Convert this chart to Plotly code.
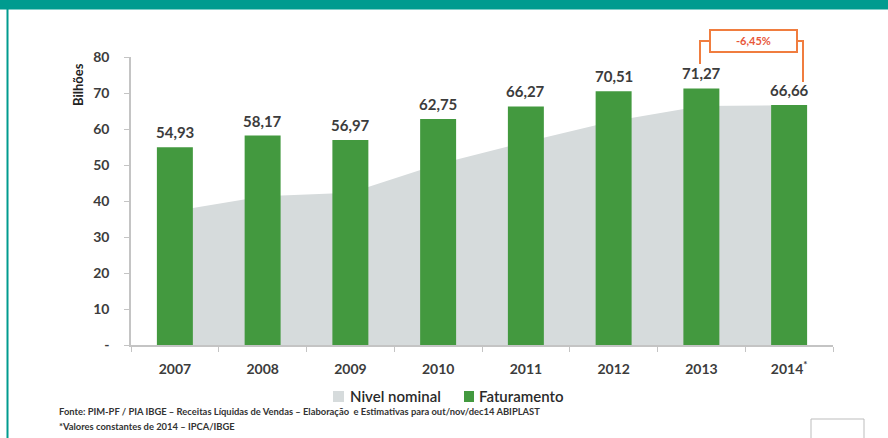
import plotly.graph_objects as go

years = ["2007", "2008", "2009", "2010", "2011", "2012", "2013", "2014"]
year_labels = ["2007", "2008", "2009", "2010", "2011", "2012", "2013", "2014<sup>*</sup>"]
faturamento = [54.93, 58.17, 56.97, 62.75, 66.27, 70.51, 71.27, 66.66]
nivel_nominal = [37.2, 41.3, 42.3, 50.2, 56.4, 62.2, 66.4, 66.6]
y_ticks = [0, 10, 20, 30, 40, 50, 60, 70, 80]
y_ticktext = ["-", "10", "20", "30", "40", "50", "60", "70", "80"]
variation_text = "-6,45%"

x_idx = list(range(len(years)))

W, H = 888, 438
L, R, T, B = 131, 55, 57, 93
PW, PH = W - L - R, H - T - B

def px(x):
    return (x - L) / PW

def py(y):
    return (H - B - y) / PH

GREEN = "#43993f"
GREY = "#d6dbdc"
TEAL = "#009b8f"
ORANGE = "#f07d3f"
TXT = "#3c3c3c"
FONT = "Lato"

fig = go.Figure()
fig.add_trace(go.Scatter(
    x=x_idx, y=nivel_nominal, mode="lines", fill="tozeroy",
    fillcolor=GREY, line=dict(width=0, color=GREY), name="Nivel nominal",
    showlegend=False, hoverinfo="skip", xaxis="x", yaxis="y"))
fig.add_trace(go.Bar(
    x=x_idx, y=faturamento, marker=dict(color=GREEN, line=dict(width=0)),
    name="Faturamento", showlegend=False, xaxis="x", yaxis="y2"))

annotations = []
for xi, v in zip(x_idx, faturamento):
    annotations.append(dict(
        x=xi, y=v, xref="x", yref="y", text=f"{v:.2f}".replace(".", ","),
        showarrow=False, yanchor="middle", yshift=15,
        font=dict(family=FONT, size=15, color=TXT, weight="bold")))

annotations.append(dict(x=px(78), y=py(85), xref="paper", yref="paper", text="Bilhões",
                        textangle=-90, showarrow=False, xanchor="center", yanchor="middle",
                        font=dict(family=FONT, size=13, color="#222222", weight="bold")))

annotations.append(dict(x=px(753), y=py(41), xref="paper", yref="paper", text=variation_text,
                        showarrow=False, xanchor="center", yanchor="middle",
                        font=dict(family=FONT, size=11, color="#e8573a", weight="bold")))

annotations.append(dict(x=px(348), y=py(396), xref="paper", yref="paper", text="Nivel nominal",
                        showarrow=False, xanchor="left", yanchor="middle",
                        font=dict(family=FONT, size=15, color="#2a2a2a", weight=600)))
annotations.append(dict(x=px(477), y=py(396), xref="paper", yref="paper", text="Faturamento",
                        showarrow=False, xanchor="left", yanchor="middle",
                        font=dict(family=FONT, size=15, color="#2a2a2a", weight=600)))

annotations.append(dict(x=px(57), y=py(411), xref="paper", yref="paper",
                        text="Fonte: PIM-PF / PIA IBGE – Receitas Líquidas de Vendas – Elaboração  e Estimativas para out/nov/dec14 ABIPLAST",
                        showarrow=False, xanchor="left", yanchor="middle",
                        font=dict(family=FONT, size=9.4, color="#333333", weight="bold")))
annotations.append(dict(x=px(57), y=py(426), xref="paper", yref="paper",
                        text="*Valores constantes de 2014 – IPCA/IBGE",
                        showarrow=False, xanchor="left", yanchor="middle",
                        font=dict(family=FONT, size=9.4, color="#333333", weight="bold")))

shapes = [
    dict(type="rect", xref="paper", yref="paper", x0=px(0), x1=px(888), y0=py(0), y1=py(9.5),
         fillcolor=TEAL, line=dict(width=0), layer="above"),
    dict(type="line", xref="paper", yref="paper", x0=px(7.5), x1=px(7.5), y0=py(9), y1=py(438),
         line=dict(color=TEAL, width=2)),
    dict(type="rect", xref="paper", yref="paper", x0=px(811), x1=px(864), y0=py(419), y1=py(445),
         fillcolor="white", line=dict(color="#bdbdbd", width=1)),
    dict(type="rect", xref="paper", yref="paper", x0=px(333), x1=px(344), y0=py(391), y1=py(402),
         fillcolor=GREY, line=dict(width=0)),
    dict(type="rect", xref="paper", yref="paper", x0=px(464), x1=px(474), y0=py(391), y1=py(402),
         fillcolor=GREEN, line=dict(width=0)),
    dict(type="path", xref="paper", yref="paper",
         path=f"M {px(700)},{py(64)} L {px(700)},{py(41)} L {px(710)},{py(41)}",
         line=dict(color=ORANGE, width=2)),
    dict(type="rect", xref="paper", yref="paper", x0=px(710), x1=px(797), y0=py(30), y1=py(52),
         fillcolor="rgba(255,255,255,0)", line=dict(color=ORANGE, width=2)),
    dict(type="path", xref="paper", yref="paper",
         path=f"M {px(797)},{py(41)} L {px(803)},{py(41)} L {px(803)},{py(82)}",
         line=dict(color=ORANGE, width=2)),
]

fig.update_layout(
    width=W, height=H, margin=dict(l=L, r=R, t=T, b=B),
    paper_bgcolor="white", plot_bgcolor="white",
    bargap=0.59, showlegend=False,
    annotations=annotations, shapes=shapes,
    font=dict(family=FONT, color=TXT),
    xaxis=dict(
        type="linear", range=[-0.5, len(years) - 0.5],
        tickmode="array", tickvals=x_idx, ticktext=year_labels,
        showline=True, linecolor="#c4c4c4", linewidth=1.5,
        ticks="", showgrid=False, zeroline=False, ticklabelstandoff=10,
        minor=dict(ticks="outside", tickmode="array",
                   tickvals=[i - 0.5 for i in range(len(years) + 1)],
                   ticklen=5, tickcolor="#c4c4c4", showgrid=False),
        tickfont=dict(family=FONT, size=14, color=TXT, weight="bold"),
    ),
    yaxis=dict(
        range=[0, 80], tickvals=y_ticks, ticktext=y_ticktext,
        showline=True, linecolor="#c4c4c4", linewidth=1.5,
        ticks="outside", ticklen=5, tickcolor="#c4c4c4",
        showgrid=False, zeroline=False, ticklabelstandoff=12,
        tickfont=dict(family=FONT, size=14, color=TXT, weight="bold"),
    ),
    yaxis2=dict(
        range=[0, 80], overlaying="y", side="left", visible=False,
        showgrid=False, zeroline=False, showline=False, showticklabels=False,
    ),
)

fig.write_html("out.html")
